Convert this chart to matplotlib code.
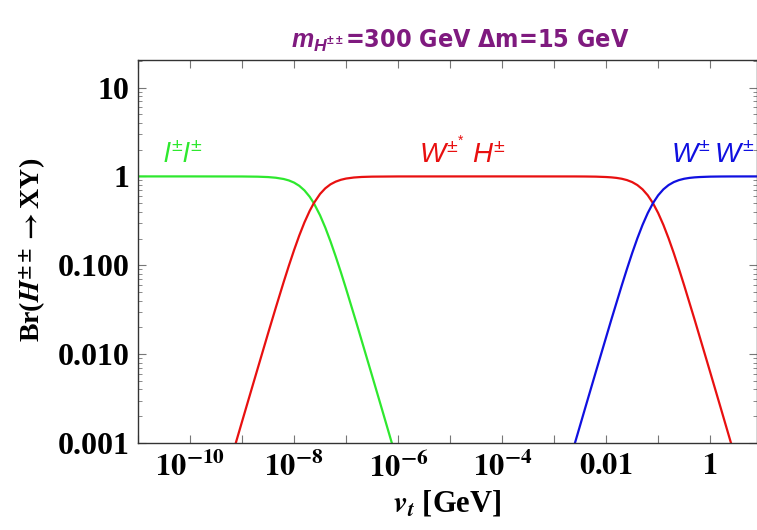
import numpy as np
import matplotlib
matplotlib.use("Agg")
import matplotlib.pyplot as plt
from matplotlib.ticker import LogLocator, FixedLocator, NullFormatter

# ==== Data (log10 of v_t in GeV, branching ratio) ====
ll_logv = [-11.2, -10.0, -9.0, -8.7, -8.5, -8.35, -8.2, -8.1, -8.0, -7.9, -7.8, -7.7,
           -7.62, -7.5, -7.4, -7.3, -7.2, -7.1, -7.0, -6.8, -6.5, -6.3, -6.1, -5.9]
ll_br = [1.0, 1.0, 0.998, 0.993, 0.983, 0.966, 0.935, 0.901, 0.852, 0.784, 0.696, 0.591,
         0.5, 0.365, 0.266, 0.186, 0.126, 0.0836, 0.0544, 0.0224, 0.00572, 0.00229,
         0.000911, 0.000363]

wh_logv = [-9.3, -9.0, -8.8, -8.5, -8.35, -8.2, -8.1, -8.0, -7.9, -7.8, -7.7, -7.62,
           -7.5, -7.4, -7.3, -7.2, -7.1, -7.0, -6.85, -6.7, -6.5, -6.0, -4.0, -2.6,
           -2.4, -2.2, -2.0, -1.9, -1.8, -1.7, -1.6, -1.5, -1.4, -1.3, -1.2, -1.1,
           -1.0, -0.9, -0.8, -0.7, -0.6, -0.5, -0.3, -0.15, 0.0, 0.2, 0.4, 0.6]
wh_br = [0.000436, 0.00174, 0.00435, 0.0171, 0.0335, 0.0647, 0.0988, 0.148, 0.216,
         0.304, 0.409, 0.5, 0.635, 0.734, 0.814, 0.873, 0.916, 0.946, 0.972, 0.986,
         0.994, 0.999, 1.0, 0.999, 0.9975, 0.994, 0.984, 0.9755, 0.962, 0.941, 0.909,
         0.863, 0.799, 0.715, 0.613, 0.5, 0.387, 0.285, 0.201, 0.137, 0.0909, 0.0593,
         0.0245, 0.0124, 0.00627, 0.00251, 0.000999, 0.000398]

ww_logv = [-2.8, -2.6, -2.4, -2.2, -2.05, -1.9, -1.7, -1.6, -1.5, -1.4, -1.3, -1.2,
           -1.1, -1.0, -0.9, -0.8, -0.7, -0.6, -0.5, -0.4, -0.3, -0.2, 0.0, 0.2, 0.4, 1.0]
ww_br = [0.000398, 0.000999, 0.00251, 0.00627, 0.0124, 0.0245, 0.0593, 0.0909, 0.137,
         0.201, 0.285, 0.387, 0.5, 0.613, 0.715, 0.799, 0.863, 0.909, 0.941, 0.962,
         0.9755, 0.984, 0.994, 0.9975, 0.999, 1.0]

x_major = [1e-10, 1e-8, 1e-6, 1e-4, 1e-2, 1e0]
x_labels = [r"$\mathbf{10^{-10}}$", r"$\mathbf{10^{-8}}$", r"$\mathbf{10^{-6}}$",
            r"$\mathbf{10^{-4}}$", r"$\mathbf{0.01}$", r"$\mathbf{1}$"]
y_major = [1e-3, 1e-2, 1e-1, 1e0, 1e1]
y_labels = ["0.001", "0.010", "0.100", "1", "10"]

# ==== Fonts for the sans mathtext (curve labels, title) ====
plt.rcParams["mathtext.fontset"] = "custom"
plt.rcParams["mathtext.rm"] = "Liberation Sans"
plt.rcParams["mathtext.it"] = "Liberation Sans:italic"
plt.rcParams["mathtext.bf"] = "Liberation Sans:bold"
plt.rcParams["mathtext.bfit"] = "Liberation Sans:italic:bold"

# ==== Figure ====
fig = plt.figure(figsize=(7.57, 5.30), dpi=100)
ax = fig.add_axes([138 / 757, 1 - 443 / 530, (757 - 138) / 757, (443 - 60) / 530])

ax.plot(10 ** np.array(ll_logv), ll_br, color="#2ee82e", lw=1.6)
ax.plot(10 ** np.array(wh_logv), wh_br, color="#e81010", lw=1.6)
ax.plot(10 ** np.array(ww_logv), ww_br, color="#1010e0", lw=1.6)

ax.set_xscale("log")
ax.set_yscale("log")
ax.set_xlim(10 ** -11.0, 10 ** 0.9)
ax.set_ylim(1e-3, 10 ** 1.31)

# x ticks: every decade, labels every two
ax.set_xticks(x_major)
ax.set_xticklabels(x_labels)
ax.xaxis.set_minor_locator(FixedLocator([10.0 ** k for k in range(-11, 2, 2)]))
ax.xaxis.set_minor_formatter(NullFormatter())

ax.set_yticks(y_major)
ax.set_yticklabels(y_labels)
ax.yaxis.set_minor_locator(LogLocator(base=10, subs=np.arange(2, 10)))
ax.yaxis.set_minor_formatter(NullFormatter())

ax.tick_params(which="both", direction="in", top=True, right=True, color="#777777")
ax.tick_params(which="major", length=6, width=0.8, labelsize=22, pad=6)
ax.tick_params(which="minor", length=3, width=0.6)
ax.tick_params(axis="x", which="minor", length=6, width=0.8)
ax.tick_params(axis="y", labelsize=23)
for lab in ax.get_yticklabels():
    lab.set_fontfamily("Liberation Serif")
    lab.set_fontweight("bold")
for lab in ax.get_xticklabels():
    lab.set_math_fontfamily("stix")
for s in ax.spines.values():
    s.set_color("#333333")
    s.set_linewidth(1.0)

ax.set_xlabel(r"$\mathbfit{v}_{\mathbfit{t}}$ [GeV]", fontsize=22, family="Liberation Serif",
              fontweight="bold", math_fontfamily="stix", labelpad=4)
fig.text(32 / 757, 1 - 250 / 530, r"Br($\mathbfit{H}^{\mathbf{\pm\pm}}\mathbf{\to}$XY)", fontsize=20,
         family="Liberation Serif", fontweight="bold", math_fontfamily="stix",
         rotation=90, ha="center", va="center")

fig.text(460 / 757, 1 - 41 / 530, r"$\mathbfit{m}_{\mathbfit{H}^{\mathbf{\pm\pm}}}$=300 GeV Δm=15 GeV",
         color="#7f1a7f", fontsize=18, fontweight="bold", fontstretch="condensed",
         family=["DejaVu Sans"], ha="center", va="center")

# curve labels
lab_y = 10 ** 0.146
ax.text(10 ** -10.13, lab_y, r"$l^{\pm}l^{\pm}$", color="#2ee82e", fontsize=20,
        ha="center", va="baseline")
ax.text(10 ** -4.77, lab_y, r"$W^{\pm^{*}}\ H^{\pm}$", color="#e81010", fontsize=20,
        ha="center", va="baseline")
ax.text(10 ** 0.04, lab_y, r"$W^{\pm}\,W^{\pm}$", color="#1010e0", fontsize=20,
        ha="center", va="baseline")

fig.savefig("out.png", dpi=100)
